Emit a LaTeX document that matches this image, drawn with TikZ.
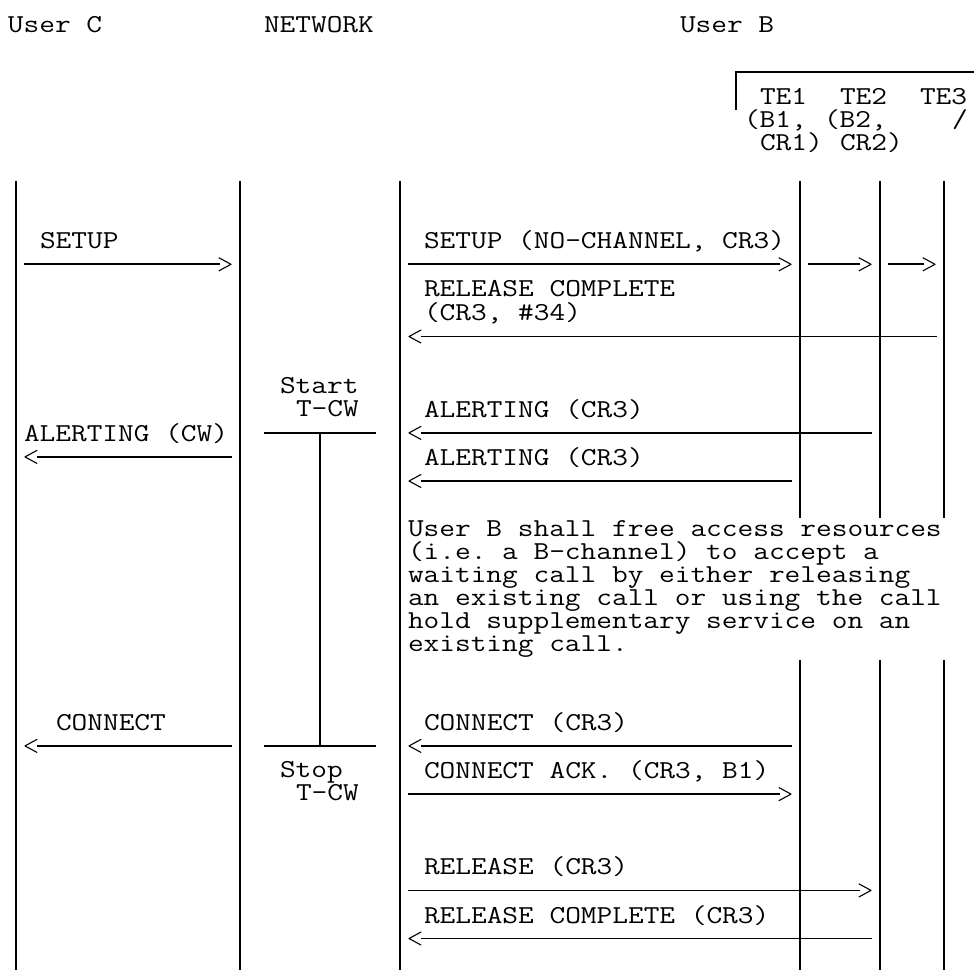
\documentclass[tikz,border=0pt]{standalone}
\usepackage{fontspec}
\newfontfamily\cour{Latin Modern Mono}[FakeStretch=1.18]
\usetikzlibrary{arrows.meta}
\pgfdeclarearrow{
  name = Chev,
  setup code = {
    \pgfarrowssettipend{0pt}
    \pgfarrowssetlineend{-11.5pt}
    \pgfarrowssetbackend{-12pt}
    \pgfarrowsupperhullpoint{-12pt}{6.5pt}
    \pgfarrowsupperhullpoint{0pt}{0pt}
  },
  drawing code = {
    \pgfsetlinewidth{1.1pt}
    \pgfsetroundjoin
    \pgfsetroundcap
    \pgfpathmoveto{\pgfqpoint{-12pt}{6.5pt}}
    \pgfpathlineto{\pgfqpoint{0pt}{0pt}}
    \pgfpathlineto{\pgfqpoint{-12pt}{-6.5pt}}
    \pgfusepathqstroke
  }
}
\begin{document}
\begin{tikzpicture}[x=1pt,y=-1pt,
  lbl/.style={anchor=base west,inner sep=0pt,outer sep=0pt,font=\cour\fontsize{25.83pt}{23pt}\selectfont\frenchspacing},
  life/.style={line width=2pt},
  msg/.style={line width=1.8pt,-{Chev}},
  timer/.style={line width=1.8pt}]
\useasboundingbox (0,0) rectangle (974,970);

% ---- headings
\node[lbl] (hC) at (8,32) {User C};
\node[lbl] (hN) at (264,32) {NETWORK};
\node[lbl] (hB) at (680,32) {User B};
\node[lbl] (te1) at (760,104.2) {TE1};
\node[lbl] (te2) at (840,104.2) {TE2};
\node[lbl] (te3) at (920,104.2) {TE3};
\node[lbl] (te1b) at (744,127.3) {(B1,};
\node[lbl] (te2b) at (824,127.3) {(B2,};
\node[lbl] (te3b) at (952,127.3) {/};
\node[lbl] (te1c) at (760,150.4) {CR1)};
\node[lbl] (te2c) at (840,150.4) {CR2)};

% bracket over the terminals
\coordinate (brA) at (736,110);
\coordinate (brB) at (736,72);
\coordinate (brC) at (974,72);
\draw[life] (brA) -- (brB) -- (brC);

% ---- lifelines
\coordinate (C1) at (16,181);  \coordinate (C2) at (16,970);
\coordinate (N1) at (240,181); \coordinate (N2) at (240,970);
\coordinate (B1) at (400,181); \coordinate (B2) at (400,970);
\coordinate (T1a) at (800,181); \coordinate (T1b) at (800,518);
\coordinate (T1c) at (800,660); \coordinate (T1d) at (800,970);
\coordinate (T2a) at (880,181); \coordinate (T2b) at (880,518);
\coordinate (T2c) at (880,660); \coordinate (T2d) at (880,970);
\coordinate (T3a) at (944,181); \coordinate (T3b) at (944,518);
\coordinate (T3c) at (944,660); \coordinate (T3d) at (944,970);
\draw[life] (C1) -- (C2);
\draw[life] (N1) -- (N2);
\draw[life] (B1) -- (B2);
\draw[life] (T1a) -- (T1b);  \draw[life] (T1c) -- (T1d);
\draw[life] (T2a) -- (T2b);  \draw[life] (T2c) -- (T2d);
\draw[life] (T3a) -- (T3b);  \draw[life] (T3c) -- (T3d);

% ---- User C side
\node[lbl] (lSetup) at (40,248.7) {SETUP};
\coordinate (m1s) at (24,264.3); \coordinate (m1e) at (231,264.3);
\draw[msg] (m1s) -- (m1e);

\node[lbl] (lAlert) at (24,441.4) {ALERTING (CW)};
\coordinate (m2s) at (232,456.9); \coordinate (m2e) at (25,456.9);
\draw[msg] (m2s) -- (m2e);

\node[lbl] (lConn) at (56,730.3) {CONNECT};
\coordinate (m3s) at (232,745.9); \coordinate (m3e) at (25,745.9);
\draw[msg] (m3s) -- (m3e);

% ---- timer T-CW
\node[lbl] (tStart) at (280,393.2) {Start};
\node[lbl] (tCW1) at (296,416.3) {T-CW};
\coordinate (t1a) at (264,432.9); \coordinate (t1b) at (376,432.9); \coordinate (t1m) at (320,432.9);
\coordinate (t2a) at (264,745.9); \coordinate (t2b) at (376,745.9); \coordinate (t2m) at (320,745.9);
\draw[timer] (t1a) -- (t1b);
\draw[timer] (t2a) -- (t2b);
\draw[timer] (t1m) -- (t2m);
\node[lbl] (tStop) at (280,777.5) {Stop};
\node[lbl] (tCW2) at (296,800.6) {T-CW};

% ---- User B side
\node[lbl] (rSetup) at (424,248.7) {SETUP (NO-CHANNEL, CR3)};
\coordinate (s1s) at (408,264.3); \coordinate (s1e) at (791,264.3);
\coordinate (s2s) at (808,264.3); \coordinate (s2e) at (871,264.3);
\coordinate (s3s) at (888,264.3); \coordinate (s3e) at (935,264.3);
\draw[msg] (s1s) -- (s1e);
\draw[msg] (s2s) -- (s2e);
\draw[msg] (s3s) -- (s3e);

\node[lbl] (rRel1) at (424,296.9) {RELEASE COMPLETE};
\node[lbl] (rRel2) at (424,320.0) {(CR3, \#34)};
\coordinate (r1s) at (937,336.5); \coordinate (r1e) at (409,336.5);
\draw[msg] (r1s) -- (r1e);

\node[lbl] (rAl1) at (424,417.3) {ALERTING (CR3)};
\coordinate (a1s) at (872,432.9); \coordinate (a1e) at (409,432.9);
\draw[msg] (a1s) -- (a1e);

\node[lbl] (rAl2) at (424,465.4) {ALERTING (CR3)};
\coordinate (a2s) at (792,481.0); \coordinate (a2e) at (409,481.0);
\draw[msg] (a2s) -- (a2e);

\node[lbl,anchor=north west,align=left] (note) at (408,520.5)
  {User B shall free access resources\\
   (i.e. a B-channel) to accept a\\
   waiting call by either releasing\\
   an existing call or using the call\\
   hold supplementary service on an\\
   existing call.};

\node[lbl] (rConn) at (424,730.3) {CONNECT (CR3)};
\coordinate (c1s) at (792,745.9); \coordinate (c1e) at (409,745.9);
\draw[msg] (c1s) -- (c1e);

\node[lbl] (rAck) at (424,778.5) {CONNECT ACK. (CR3, B1)};
\coordinate (c2s) at (408,794.1); \coordinate (c2e) at (791,794.1);
\draw[msg] (c2s) -- (c2e);

\node[lbl] (rRel) at (424,874.8) {RELEASE (CR3)};
\coordinate (e1s) at (408,890.4); \coordinate (e1e) at (871,890.4);
\draw[msg] (e1s) -- (e1e);

\node[lbl] (rRelC) at (424,923.0) {RELEASE COMPLETE (CR3)};
\coordinate (e2s) at (872,938.5); \coordinate (e2e) at (409,938.5);
\draw[msg] (e2s) -- (e2e);
\end{tikzpicture}
\end{document}
